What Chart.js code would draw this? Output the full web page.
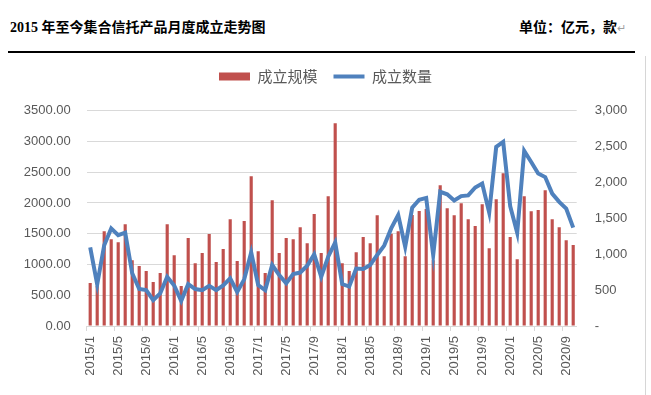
<!DOCTYPE html>
<html>
<head>
<meta charset="utf-8">
<script src="https://cdn.jsdelivr.net/npm/chart.js@4"></script>
<style>
  body { margin: 0; background: #fff; }
  #wrap { position: relative; width: 651px; height: 395px; overflow: hidden; background: #fff; }
  .title { position: absolute; left: 10px; top: 16px; font: bold 14px "Liberation Serif", "Noto Sans CJK SC", serif; color: #000; white-space: nowrap; }
  .unit { position: absolute; left: 519px; top: 16px; font: bold 14px "Noto Sans CJK SC", sans-serif; color: #000; white-space: nowrap; }
  .unit span { font-weight: normal; color: #a0a0a0; font-size: 11px; }
  .rule { position: absolute; left: 8px; top: 51px; width: 627px; height: 2px; background: #000; }
  .edge { position: absolute; left: 645px; top: 56px; width: 1px; height: 339px; background: #d6d6d6; }
  #chart { position: absolute; left: 0; top: 53px; }
</style>
</head>
<body>
<div id="wrap">
  <div class="title">2015 年至今集合信托产品月度成立走势图</div>
  <div class="unit">单位：亿元，款<span>↵</span></div>
  <div class="rule"></div>
  <div class="edge"></div>
  <canvas id="chart" width="651" height="342"></canvas>
</div>
<script>
// months 2015/1 .. 2020/10
const months = [
  '2015/1','2015/2','2015/3','2015/4','2015/5','2015/6','2015/7','2015/8','2015/9','2015/10','2015/11','2015/12',
  '2016/1','2016/2','2016/3','2016/4','2016/5','2016/6','2016/7','2016/8','2016/9','2016/10','2016/11','2016/12',
  '2017/1','2017/2','2017/3','2017/4','2017/5','2017/6','2017/7','2017/8','2017/9','2017/10','2017/11','2017/12',
  '2018/1','2018/2','2018/3','2018/4','2018/5','2018/6','2018/7','2018/8','2018/9','2018/10','2018/11','2018/12',
  '2019/1','2019/2','2019/3','2019/4','2019/5','2019/6','2019/7','2019/8','2019/9','2019/10','2019/11','2019/12',
  '2020/1','2020/2','2020/3','2020/4','2020/5','2020/6','2020/7','2020/8','2020/9','2020/10'
];

// 成立规模 (亿元)
const scale = [
  700, 650, 1540, 1410, 1360, 1655, 1070, 975, 895, 715, 860, 1655,
  1150, 650, 1430, 1020, 1185, 1495, 1040, 1250, 1735, 1055, 1705, 2435,
  1215, 860, 2045, 1185, 1430, 1410, 1605, 1345, 1820, 1185, 2110, 3295,
  1020, 895, 1200, 1445, 1345, 1800, 1135, 1500, 1540, 1135, 1805, 1870,
  1900, 1070, 2290, 1915, 1800, 1995, 1735, 1625, 1980, 1265, 2060, 2485,
  1445, 1085, 2110, 1865, 1885, 2205, 1735, 1605, 1395, 1315
];

// 成立数量 (款)
const count = [
  1095, 580, 1125, 1360, 1265, 1300, 735, 515, 500, 360, 455, 685,
  565, 350, 585, 515, 500, 560, 500, 565, 665, 475, 650, 1025,
  570, 500, 850, 710, 595, 725, 745, 840, 1000, 685, 965, 1165,
  585, 550, 800, 795, 850, 990, 1120, 1360, 1545, 1105, 1650, 1760,
  1785, 990, 1870, 1835, 1750, 1810, 1820, 1930, 1985, 1580, 2495, 2565,
  1670, 1300, 2440, 2285, 2125, 2075, 1845, 1730, 1635, 1370
];

const seriesNames = ['成立规模', '成立数量'];
const labelColor = '#595959';
const gridColor = '#d9d9d9';
const tickFont = { family: 'Liberation Sans, Arial, sans-serif', size: 13 };

// push the plot area down below the legend
const legendGap = {
  id: 'legendGap',
  beforeInit(chart) {
    const fit = chart.legend.fit;
    chart.legend.fit = function () {
      fit.call(this);
      this.height += 16.7;
    };
  }
};

new Chart(document.getElementById('chart'), {
  data: {
    labels: months,
    datasets: [
      {
        type: 'bar',
        label: seriesNames[0],
        data: scale,
        backgroundColor: '#c0504d',
        barPercentage: 0.45,
        categoryPercentage: 1,
        yAxisID: 'y',
        order: 1,
        pointStyle: 'rect'
      },
      {
        type: 'line',
        label: seriesNames[1],
        data: count,
        borderColor: '#4f81bd',
        backgroundColor: '#4f81bd',
        borderWidth: 4,
        pointRadius: 0,
        tension: 0,
        yAxisID: 'y1',
        order: 0,
        pointStyle: 'line'
      }
    ]
  },
  options: {
    responsive: false,
    animation: false,
    devicePixelRatio: 1,
    layout: { padding: 0 },
    plugins: {
      tooltip: { enabled: false },
      legend: {
        position: 'top',
        labels: {
          usePointStyle: true,
          pointStyleWidth: 31,
          boxHeight: 8,
          padding: 16,
          color: labelColor,
          font: { family: 'Noto Sans CJK SC', size: 15 },
          sort: (a, b) => a.datasetIndex - b.datasetIndex
        }
      }
    },
    scales: {
      x: {
        offset: true,
        grid: {
          offset: true,
          drawOnChartArea: false,
          drawTicks: true,
          tickLength: 5,
          color: c => (c.index % 4 === 0 ? gridColor : 'rgba(0,0,0,0)')
        },
        border: { color: gridColor },
        ticks: {
          autoSkip: false,
          minRotation: 90,
          maxRotation: 90,
          padding: 5,
          color: labelColor,
          font: tickFont,
          callback: (v, i) => (i % 4 === 0 ? months[i] : '')
        },
        afterFit: s => { s.height = 69; }
      },
      y: {
        position: 'left',
        min: 0,
        max: 3500,
        grid: { color: gridColor, drawTicks: false },
        border: { display: false },
        ticks: {
          stepSize: 500,
          padding: 16,
          color: labelColor,
          font: tickFont,
          callback: v => v.toFixed(2)
        },
        afterFit: s => { s.width = 86.7; }
      },
      y1: {
        position: 'right',
        min: 0,
        max: 3000,
        grid: { drawOnChartArea: false, drawTicks: false },
        border: { display: false },
        ticks: {
          stepSize: 500,
          padding: 18,
          color: labelColor,
          font: tickFont,
          callback: v => (v === 0 ? '-' : v.toLocaleString('en-US'))
        },
        afterFit: s => { s.width = 74.3; }
      }
    }
  },
  plugins: [legendGap]
});
</script>
</body>
</html>
